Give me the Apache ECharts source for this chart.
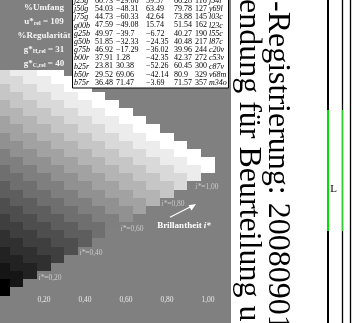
<!DOCTYPE html>
<html>
<head>
<meta charset="utf-8">
<script src="https://cdn.jsdelivr.net/npm/echarts@6/dist/echarts.min.js"></script>
<style>
  html, body { margin: 0; padding: 0; background: #ffffff; }
  #chart { width: 359px; height: 323px; }
</style>
</head>
<body>
<div id="chart"></div>
<script>
// Relative chroma c* runs in 15 equal steps from 0 to 1.
const chromaSteps = 15;
// Grey of each brilliance step, from i* = 1.00 (white) down to i* = 0.00 (black).
const greyLevels = [255, 236, 217, 198, 180, 162, 145, 127, 111, 94, 78, 63, 48, 34, 21, 0];
// Tick values on the c* axis.
const chromaTicks = [0, 0.2, 0.4, 0.6, 0.8, 1.0];
// Brilliance lines that are labelled along the lower edge.
const brillianceMarks = [1.0, 0.8, 0.6, 0.4, 0.2];
// CIELAB data of the hue table: name, L*, a*, b*, C*, h, hue name.
const tableNames = ['j25g', 'j50g', 'j75g', 'g00b', 'g25b', 'g50b', 'g75b', 'b00r', 'b25r', 'b50r', 'b75r'];
const tableL = ['60.73', '54.03', '44.73', '47.59', '49.97', '51.85', '46.92', '37.91', '23.81', '29.52', '36.48'];
const tableA = ['−29.06', '−48.31', '−60.33', '−49.08', '−39.7', '−32.33', '−17.29', '1.28', '30.38', '69.06', '71.47'];
const tableB = ['59.57', '63.49', '42.64', '15.74', '−6.72', '−24.35', '−36.02', '−42.35', '−52.26', '−42.14', '−3.69'];
const tableC = ['66.28', '79.78', '73.88', '51.54', '40.27', '40.48', '39.96', '42.37', '60.45', '80.9', '71.57'];
const tableH = ['116', '127', '145', '162', '190', '217', '244', '272', '300', '329', '357'];
const tableHue = ['j54l', 'y69l', 'l03c', 'l23c', 'l55c', 'l87c', 'c20v', 'c53v', 'c87v', 'v68m', 'm34o'];
// Summary values beside the table.
const summaryLines = ['%Umfang', 'u*{s|rel} = 109', '%Regularität', 'g*{s|H,rel} = 31', 'g*{s|C,rel} = 40'];

const SERIF = '"Liberation Serif", "Times New Roman", "DejaVu Serif", serif';
const fmt = v => v.toFixed(2).replace('.', ',');

// Triangle cells: column k holds 16 - k cells, each two half-rows high,
// every column shifted down by one half-row.
const cells = [];
for (let k = 0; k <= chromaSteps; k++) {
  for (let j = 0; j <= chromaSteps - k; j++) {
    cells.push([k / chromaSteps, k + 2 * j, j]);
  }
}

const chart = echarts.init(document.getElementById('chart'), null, { renderer: 'canvas' });

const axisCommon = {
  type: 'value',
  min: 0,
  max: 1.03,
  interval: 0.2,
  offset: -7.8,
  splitLine: { show: false }
};

const tableGraphics = [];
const colX = [74, 95, 116, 146, 174, 195, 209];
const cols = [tableNames, tableL, tableA, tableB, tableC, tableH, tableHue];
tableGraphics.push({
  type: 'rect', z: 20,
  shape: { x: 72.5, y: -5, width: 156, height: 93 },
  style: { fill: '#ffffff', stroke: '#000000', lineWidth: 1 }
});
for (let r = 0; r < tableNames.length; r++) {
  cols.forEach((col, ci) => {
    tableGraphics.push({
      type: 'text', z: 21,
      x: colX[ci], y: 0.8 + 8.2 * r,
      style: {
        text: col[r], fill: '#000000',
        font: (ci === 0 || ci === 6 ? 'italic ' : '') + '8px ' + SERIF,
        align: 'left', verticalAlign: 'middle'
      }
    });
  });
}

const summaryGraphics = summaryLines.map((s, i) => ({
  type: 'text', z: 21,
  x: 44, y: 8 + 13.8 * i,
  style: {
    text: s,
    fill: '#f4f4f4',
    font: 'bold 9px ' + SERIF,
    align: 'center', verticalAlign: 'middle',
    rich: { s: { fill: '#f4f4f4', font: 'bold 6px ' + SERIF, verticalAlign: 'bottom', padding: [4, 0, 0, 0] } }
  }
}));

chart.setOption({
  animation: false,
  backgroundColor: '#ffffff',
  grid: { left: -37, right: 144.9, top: 34.8, bottom: 27.5, containLabel: false },
  xAxis: [
    Object.assign({}, axisCommon, {
      axisLine: { show: true, lineStyle: { color: '#ffffff', width: 1 }, symbol: ['none', 'arrow'], symbolSize: [9, 14] },
      axisTick: { show: true, inside: false, length: 4, lineStyle: { color: '#ffffff', width: 1 } },
      axisLabel: {
        show: true, margin: 8, color: '#e8e8e8', fontFamily: SERIF, fontSize: 7.5,
        showMaxLabel: false,
        formatter: v => (v > 0 && v <= 1.0001 ? fmt(v) : '')
      },
      name: 'relative Buntheit {i|c*}',
      nameLocation: 'end',
      nameGap: -5,
      nameTextStyle: {
        color: '#ffffff', fontFamily: SERIF, fontWeight: 'bold', fontSize: 9,
        align: 'right', verticalAlign: 'top', padding: [19, 0, 0, 0],
        rich: { i: { color: '#ffffff', fontFamily: SERIF, fontWeight: 'bold', fontStyle: 'italic', fontSize: 9 } }
      }
    }),
    Object.assign({}, axisCommon, {
      axisLine: { show: false },
      axisTick: { show: true, inside: true, length: 4, lineStyle: { color: '#ffffff', width: 1 } },
      axisLabel: { show: false }
    })
  ],
  yAxis: { type: 'value', min: 0, max: 32, inverse: true, show: false },
  series: [
    {
      type: 'custom',
      clip: false,
      silent: true,
      z: 2,
      data: cells,
      encode: { x: 0, y: 1 },
      renderItem(params, api) {
        const c = api.value(0), top = api.value(1), j = api.value(2);
        const p0 = api.coord([c - 0.5 / chromaSteps, top]);
        const p1 = api.coord([c + 0.5 / chromaSteps, top + 2]);
        const x0 = Math.round(p0[0]), y0 = Math.round(p0[1]);
        const x1 = Math.round(p1[0]), y1 = Math.round(p1[1]);
        const g = greyLevels[j];
        return {
          type: 'rect',
          shape: { x: x0, y: y0, width: x1 - x0, height: y1 - y0 },
          style: { fill: 'rgb(' + g + ',' + g + ',' + g + ')' }
        };
      }
    },
    {
      type: 'scatter',
      silent: true,
      symbolSize: 0,
      z: 5,
      data: brillianceMarks.map(v => ({
        value: [v, 32 - v * chromaSteps],
        label: { offset: v === 1 ? [-1, 13.5] : [6, 6.5] }
      })),
      label: {
        show: true,
        position: 'inside',
        align: 'center',
        verticalAlign: 'middle',
        formatter: p => '{i|i*}{n|=' + fmt(p.value[0]) + '}',
        rich: {
          i: { color: '#dcdcdc', fontFamily: SERIF, fontStyle: 'italic', fontSize: 7.5 },
          n: { color: '#dcdcdc', fontFamily: SERIF, fontSize: 7.5 }
        }
      }
    }
  ],
  graphic: [
    // grey field of the chart
    { type: 'rect', z: -10, shape: { x: 0, y: 0, width: 231, height: 323 }, style: { fill: '#808080' } },
    // grey panel behind the summary values
    { type: 'rect', z: 19, shape: { x: 0, y: 0, width: 72.5, height: 70 }, style: { fill: '#808080' } },
    ...summaryGraphics,
    ...tableGraphics,
    // brilliance direction
    { type: 'text', z: 21, x: 184, y: 226,
      style: { text: 'Brillantheit {i|i*}', fill: '#ffffff', font: 'bold 9px ' + SERIF, align: 'center', verticalAlign: 'middle',
        rich: { i: { fill: '#ffffff', font: 'italic bold 9px ' + SERIF } } } },
    { type: 'line', z: 21, shape: { x1: 170, y1: 217.3, x2: 192, y2: 206 }, style: { stroke: '#ffffff', lineWidth: 1.2 } },
    { type: 'polygon', z: 21, shape: { points: [[196, 204], [188.5, 205.2], [191.5, 210.5]] }, style: { fill: '#ffffff' } },
    // rotated running text on the page margin
    { type: 'text', z: 21, x: 277, y: 1, rotation: -Math.PI / 2,
      style: { text: '-Registrierung: 20080901', fill: '#000000', font: '32px ' + SERIF, align: 'left', verticalAlign: 'middle' } },
    { type: 'text', z: 21, x: 248, y: -1, rotation: -Math.PI / 2,
      style: { text: 'endung für Beurteilung u', fill: '#000000', font: '32px ' + SERIF, align: 'left', verticalAlign: 'middle' } },
    // registration rules at the right border
    { type: 'line', z: 21, shape: { x1: 328, y1: 0, x2: 328, y2: 323 }, style: { stroke: '#000000', lineWidth: 2 } },
    { type: 'line', z: 22, shape: { x1: 328, y1: 110, x2: 328, y2: 231 }, style: { stroke: '#00e000', lineWidth: 2 } },
    { type: 'line', z: 21, shape: { x1: 342.5, y1: 0, x2: 342.5, y2: 323 }, style: { stroke: '#000000', lineWidth: 1.3 } },
    { type: 'line', z: 22, shape: { x1: 342.5, y1: 110, x2: 342.5, y2: 231 }, style: { stroke: '#33cc33', lineWidth: 1.3 } },
    { type: 'line', z: 21, shape: { x1: 350.5, y1: 0, x2: 350.5, y2: 323 }, style: { stroke: '#000000', lineWidth: 1.3 } },
    { type: 'text', z: 21, x: 333.5, y: 189, style: { text: 'L', fill: '#000000', font: '11px ' + SERIF, align: 'center', verticalAlign: 'middle' } }
  ]
});
</script>
</body>
</html>
